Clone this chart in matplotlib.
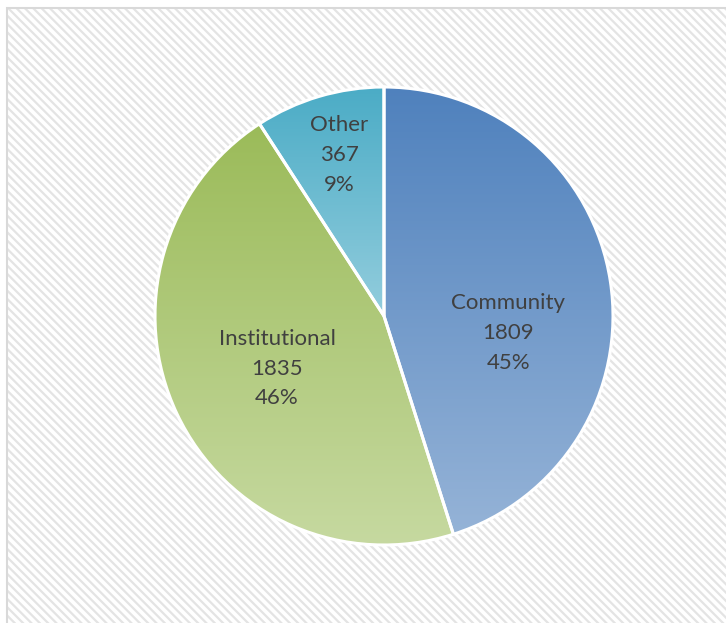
import numpy as np
import matplotlib
matplotlib.use("Agg")
import matplotlib.pyplot as plt
from matplotlib.patches import Rectangle
from matplotlib.colors import LinearSegmentedColormap

# Data
categories = ["Community", "Institutional", "Other"]
counts = [1809, 1835, 367]
top_colors = ["#4f81bd", "#9bbb59", "#4bacc6"]
bottom_colors = ["#95b3d7", "#c6d9a0", "#93cddd"]

plt.rcParams["hatch.linewidth"] = 1.6
plt.rcParams["hatch.color"] = "#e4e4e4"

W, H = 726, 623
fig = plt.figure(figsize=(W / 100, H / 100), dpi=100)
fig.patch.set_facecolor("white")

# Chart area: hatched background with a thin grey frame
frame_left, frame_top = 7, 8
bg = Rectangle((frame_left / W, -0.05), 1.1, (H - frame_top) / H + 0.05,
               transform=fig.transFigure, facecolor="white",
               edgecolor="#e4e4e4", hatch="\\" * 4, linewidth=0, zorder=0)
fig.add_artist(bg)
frame = Rectangle((frame_left / W, -0.05), 1.1, (H - frame_top) / H + 0.05,
                  transform=fig.transFigure, facecolor="none",
                  edgecolor="#d9d9d9", linewidth=1.5, zorder=1)
fig.add_artist(frame)

# Square axes holding the pie
cx, cy, r = 384, 316, 229
ax = fig.add_axes([(cx - r) / W, (H - cy - r) / H, 2 * r / W, 2 * r / H])
ax.axis("off")
ax.patch.set_alpha(0)

wedges, _ = ax.pie(counts, startangle=90, counterclock=False, radius=1,
                   wedgeprops=dict(edgecolor="white", linewidth=2.2, facecolor="none"))

# Vertical gradient fill clipped to each wedge
for w, c_top, c_bot in zip(wedges, top_colors, bottom_colors):
    ext = w.get_path().get_extents()
    cmap = LinearSegmentedColormap.from_list("g", [c_bot, c_top])
    grad = np.linspace(0, 1, 256).reshape(-1, 1)
    im = ax.imshow(grad, cmap=cmap, origin="lower", aspect="auto",
                   extent=[ext.x0, ext.x1, ext.y0, ext.y1], zorder=1,
                   interpolation="bilinear")
    im.set_clip_path(w)
    w.set_zorder(2)
ax.set_xlim(-1, 1)
ax.set_ylim(-1, 1)
ax.set_aspect("equal")

# Data labels: name, value, percentage (radial distance, angular nudge in degrees)
total = sum(counts)
label_dist = [0.547, 0.521, 0.73]
label_nudge = [-16.6, 1.0, -0.9]
for w, name, v, d, nudge in zip(wedges, categories, counts, label_dist, label_nudge):
    mid = np.deg2rad((w.theta1 + w.theta2) / 2 + nudge)
    pct = round(v / total * 100)
    ax.text(d * np.cos(mid), d * np.sin(mid), f"{name}\n{v}\n{pct}%",
            ha="center", va="center", fontsize=16, color="#404040",
            family="Lato", linespacing=1.6, zorder=3)

fig.savefig("out.png", dpi=100)
